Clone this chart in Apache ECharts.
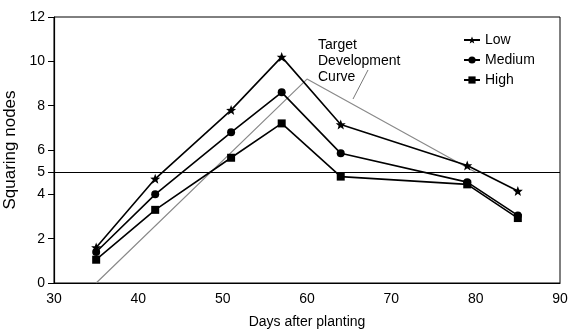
<!DOCTYPE html>
<html>
<head>
<meta charset="utf-8">
<script src="https://cdn.jsdelivr.net/npm/echarts@6/dist/echarts.min.js"></script>
<style>html,body{margin:0;padding:0;background:#fff;}#c{width:569px;height:330px;}</style>
</head>
<body>
<div id="c"></div>
<script>
var days = [35, 42, 51, 57, 64, 79, 85];
var low = [1.6, 4.7, 7.8, 10.2, 7.15, 5.3, 4.15];
var medium = [1.4, 4.0, 6.8, 8.6, 5.85, 4.55, 3.05];
var high = [1.05, 3.3, 5.65, 7.2, 4.8, 4.45, 2.93];
var targetDays = [35, 60, 80];
var targetValues = [0, 9.2, 5.0];
var yTicks = [0, 2, 4, 5, 6, 8, 10, 12];
var xTicks = [30, 40, 50, 60, 70, 80, 90];

function pairs(xs, ys) { return xs.map(function (x, i) { return [x, ys[i]]; }); }

var star = 'path://M0,-10 L2.6,-3.2 L9.5,-3.1 L4.1,1.2 L5.9,8.1 L0,4 L-5.9,8.1 L-4.1,1.2 L-9.5,-3.1 L-2.6,-3.2 Z';
var font = 'Liberation Sans, Arial, sans-serif';

var chart = echarts.init(document.getElementById('c'));
chart.setOption({
  animation: false,
  grid: { left: 54, right: 9, top: 17, bottom: 47, outerBoundsMode: 'none', containLabel: false, show: true, borderColor: '#000', borderWidth: 1, backgroundColor: 'transparent' },
  legend: {
    orient: 'vertical', left: 458, top: 28, itemGap: 6, itemWidth: 16, itemHeight: 9,
    textStyle: { fontFamily: font, fontSize: 14, color: '#000' },
    data: ['Low', 'Medium', 'High']
  },
  xAxis: {
    type: 'value', min: 30, max: 90, interval: 10,
    name: 'Days after planting', nameLocation: 'middle', nameGap: 32,
    nameTextStyle: { fontFamily: font, fontSize: 14, color: '#000' },
    axisLine: { show: true, lineStyle: { color: '#000', width: 1.2 } },
    axisTick: { show: false },
    axisLabel: { fontFamily: font, fontSize: 14, color: '#000', margin: 9 },
    splitLine: { show: false }
  },
  yAxis: {
    type: 'value', min: 0, max: 12, interval: 1,
    name: 'Squaring nodes', nameLocation: 'middle', nameGap: 28,
    nameTextStyle: { fontFamily: 'Liberation Sans Narrow, Arial Narrow, sans-serif', fontSize: 17, color: '#000' },
    axisLine: { show: true, lineStyle: { color: '#000', width: 1.2 } },
    axisTick: { show: true, length: 6, customValues: yTicks, lineStyle: { color: '#000' } },
    axisLabel: { fontFamily: font, fontSize: 14, color: '#000', margin: 9, customValues: yTicks },
    splitLine: { show: false }
  },
  series: [
    {
      name: 'Target', type: 'line', data: pairs(targetDays, targetValues),
      symbol: 'none', lineStyle: { color: '#8a8a8a', width: 1.2 }, z: 1,
      markLine: {
        silent: true, symbol: 'none', label: { show: false },
        lineStyle: { color: '#000', width: 1, type: 'solid' },
        data: [{ yAxis: 5 }]
      }
    },
    {
      name: 'Low', type: 'line', data: pairs(days, low),
      symbol: star, symbolSize: 10, itemStyle: { color: '#000' },
      lineStyle: { color: '#000', width: 1.6 }, z: 3
    },
    {
      name: 'Medium', type: 'line', data: pairs(days, medium),
      symbol: 'circle', symbolSize: 8, itemStyle: { color: '#000' },
      lineStyle: { color: '#000', width: 1.6 }, z: 3
    },
    {
      name: 'High', type: 'line', data: pairs(days, high),
      symbol: 'rect', symbolSize: 8, itemStyle: { color: '#000' },
      lineStyle: { color: '#000', width: 1.6 }, z: 3
    }
  ],
  graphic: [
    { type: 'text', left: 318, top: 37, style: { text: 'Target\nDevelopment\nCurve', font: '14px ' + font, fill: '#000', lineHeight: 16 } },
    { type: 'line', shape: { x1: 368, y1: 70, x2: 353, y2: 99 }, style: { stroke: '#555', lineWidth: 0.8 } }
  ]
});
</script>
</body>
</html>
